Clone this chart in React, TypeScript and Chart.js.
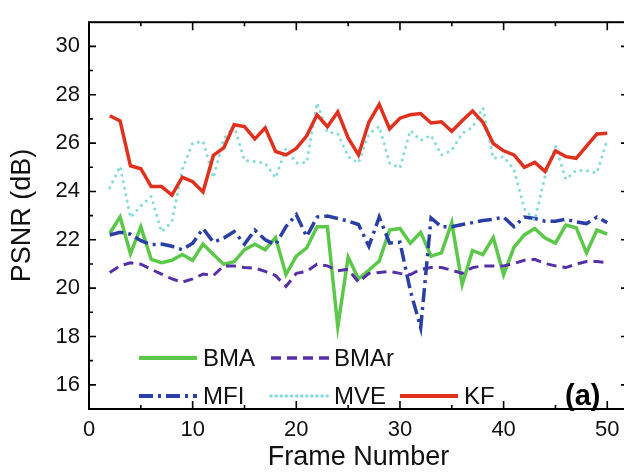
import React, { useEffect, useRef } from "react";
import { Chart, registerables } from "chart.js";
Chart.register(...registerables);

const frames = [2, 3, 4, 5, 6, 7, 8, 9, 10, 11, 12, 13, 14, 15, 16, 17, 18, 19, 20, 21, 22, 23, 24, 25, 26, 27, 28, 29, 30, 31, 32, 33, 34, 35, 36, 37, 38, 39, 40, 41, 42, 43, 44, 45, 46, 47, 48, 49, 50];

const bma = [22.27, 22.94, 21.42, 22.54, 21.19, 21.05, 21.15, 21.39, 21.15, 21.82, 21.39, 20.99, 21.09, 21.59, 21.82, 21.59, 22.09, 20.56, 21.32, 21.66, 22.54, 22.54, 18.4, 21.28, 20.38, 20.74, 21.12, 22.4, 22.47, 21.86, 22.31, 21.32, 21.46, 22.71, 20.15, 21.55, 21.39, 22.09, 20.56, 21.69, 22.2, 22.47, 22.07, 21.86, 22.61, 22.5, 21.46, 22.4, 22.23];

const bmar = [20.65, 20.92, 21.05, 20.99, 20.78, 20.58, 20.38, 20.25, 20.38, 20.58, 20.52, 20.92, 20.92, 20.85, 20.83, 20.69, 20.52, 20.07, 20.61, 20.69, 20.99, 20.92, 20.72, 20.78, 20.25, 20.61, 20.65, 20.69, 20.61, 20.56, 20.78, 20.85, 20.85, 20.74, 20.61, 20.85, 20.92, 20.92, 20.92, 21.02, 21.15, 21.19, 21.02, 20.92, 20.85, 20.99, 21.1, 21.1, 21.05];

const mfi = [22.2, 22.31, 22.23, 21.96, 21.8, 21.82, 21.73, 21.59, 21.86, 22.47, 21.9, 22.07, 22.34, 21.82, 22.4, 22.0, 21.8, 22.54, 23.04, 22.13, 22.94, 22.98, 22.88, 22.77, 22.63, 21.73, 22.94, 21.86, 21.9, 19.9, 18.36, 22.9, 22.54, 22.54, 22.63, 22.71, 22.8, 22.85, 22.94, 22.54, 22.94, 22.88, 22.77, 22.77, 22.85, 22.74, 22.67, 22.94, 22.71];

const mve = [24.15, 25.04, 22.92, 23.4, 23.79, 22.33, 22.75, 24.92, 26.0, 26.07, 24.56, 26.18, 26.7, 25.28, 25.23, 25.17, 24.56, 25.78, 25.17, 25.2, 27.66, 26.45, 26.4, 25.44, 25.17, 26.38, 26.69, 25.17, 24.97, 26.52, 26.11, 26.32, 25.51, 25.7, 26.4, 26.65, 27.46, 25.37, 25.44, 24.9, 23.28, 22.8, 24.63, 25.87, 24.5, 24.87, 24.86, 24.76, 26.14];

const kf = [27.13, 26.92, 25.06, 24.94, 24.2, 24.2, 23.85, 24.59, 24.4, 23.98, 25.49, 25.8, 26.76, 26.68, 26.17, 26.63, 25.65, 25.51, 25.78, 26.3, 27.17, 26.68, 27.29, 26.21, 25.51, 26.86, 27.6, 26.59, 27.03, 27.17, 27.22, 26.83, 26.88, 26.49, 26.92, 27.33, 26.86, 25.98, 25.68, 25.51, 25.0, 25.2, 24.83, 25.68, 25.44, 25.37, 25.87, 26.38, 26.41];

const xTickValues = [0, 10, 20, 30, 40, 50];
const xMinorValues = [5, 15, 25, 35, 45];
const yTickValues = [16, 18, 20, 22, 24, 26, 28, 30];
const yMinorValues = [17, 19, 21, 23, 25, 27, 29];

const FONT = "'Liberation Sans', Arial, Helvetica, sans-serif";

const seriesStyles = [
  { label: "BMA", data: bma, color: "#5cc84a", width: 3.5, dash: [] as number[], cap: "butt" },
  { label: "BMAr", data: bmar, color: "#5630a8", width: 3, dash: [10, 6], cap: "butt" },
  { label: "MFI", data: mfi, color: "#2a3fa6", width: 3.5, dash: [14, 5, 3, 5], cap: "butt" },
  { label: "MVE", data: mve, color: "#86dcd8", width: 3, dash: [0.1, 6.5], cap: "round" },
  { label: "KF", data: kf, color: "#e0301e", width: 3.5, dash: [] as number[], cap: "butt" },
];

const legendItems = [
  { idx: 0, x1: 139, x2: 197, tx: 203, y: 358 },
  { idx: 1, x1: 271, x2: 329, tx: 334, y: 358 },
  { idx: 2, x1: 139, x2: 197, tx: 203, y: 396 },
  { idx: 3, x1: 271, x2: 329, tx: 334, y: 396 },
  { idx: 4, x1: 400, x2: 458, tx: 464, y: 396 },
];

const framePlugin = {
  id: "frameAndLegend",
  afterDatasetsDraw(chart: any) {
    const { ctx, chartArea, scales } = chart;
    const { left, right, top, bottom } = chartArea;
    ctx.save();
    ctx.strokeStyle = "#000";
    ctx.lineWidth = 2;
    ctx.setLineDash([]);
    ctx.strokeRect(left, top, right - left, bottom - top);
    ctx.lineWidth = 1.6;
    const drawX = (vals: number[], len: number) => {
      vals.forEach((v) => {
        const px = scales.x.getPixelForValue(v);
        ctx.beginPath();
        ctx.moveTo(px, bottom);
        ctx.lineTo(px, bottom - len);
        ctx.moveTo(px, top);
        ctx.lineTo(px, top + len);
        ctx.stroke();
      });
    };
    const drawY = (vals: number[], len: number) => {
      vals.forEach((v) => {
        const py = scales.y.getPixelForValue(v);
        ctx.beginPath();
        ctx.moveTo(left, py);
        ctx.lineTo(left + len, py);
        ctx.moveTo(right, py);
        ctx.lineTo(right - len, py);
        ctx.stroke();
      });
    };
    drawX(xTickValues, 8);
    drawX(xMinorValues, 4);
    drawY(yTickValues, 7);
    drawY(yMinorValues, 4);

    legendItems.forEach((it) => {
      const s = seriesStyles[it.idx];
      ctx.beginPath();
      ctx.strokeStyle = s.color;
      ctx.lineWidth = s.width + 0.5;
      ctx.lineCap = s.cap as CanvasLineCap;
      ctx.setLineDash(it.idx === 3 ? [0.1, 5] : s.dash);
      ctx.moveTo(it.x1, it.y);
      ctx.lineTo(it.x2, it.y);
      ctx.stroke();
      ctx.setLineDash([]);
      ctx.lineCap = "butt";
      ctx.fillStyle = "#111";
      ctx.font = `24px ${FONT}`;
      ctx.textAlign = "left";
      ctx.textBaseline = "middle";
      ctx.fillText(s.label, it.tx, it.y + 1);
    });
    ctx.font = `bold 29px ${FONT}`;
    ctx.fillStyle = "#000";
    ctx.textAlign = "left";
    ctx.textBaseline = "middle";
    ctx.fillText("(a)", 565, 397);
    ctx.restore();
  },
};

export default function App() {
  const ref = useRef<HTMLCanvasElement | null>(null);
  useEffect(() => {
    if (!ref.current) return;
    const datasets = seriesStyles.map((s, i) => ({
      label: s.label,
      data: frames.map((f, j) => ({ x: f, y: s.data[j] })),
      borderColor: s.color,
      backgroundColor: s.color,
      borderWidth: s.width,
      borderDash: s.dash,
      borderCapStyle: s.cap,
      borderJoinStyle: "miter",
      pointRadius: 0,
      tension: 0,
      fill: false,
      order: 5 - i,
    }));
    const chart = new Chart(ref.current, {
      type: "line",
      data: { datasets: datasets as any },
      options: {
        animation: false,
        responsive: false,
        layout: { padding: { left: 0, top: 13, right: 12, bottom: 0 } },
        plugins: { legend: { display: false }, tooltip: { enabled: false } },
        scales: {
          x: {
            type: "linear",
            min: 0,
            max: 52,
            afterBuildTicks: (s: any) => {
              s.ticks = xTickValues.map((v) => ({ value: v }));
            },
            afterFit: (s: any) => {
              s.height = 65;
            },
            grid: { display: false, drawTicks: false },
            border: { display: false },
            ticks: {
              color: "#111",
              font: { family: FONT, size: 22 },
              padding: 8,
              maxRotation: 0,
              autoSkip: false,
            },
            title: {
              display: true,
              text: "Frame Number",
              color: "#111",
              font: { family: FONT, size: 27 },
              padding: { top: 0, bottom: 0 },
            },
          },
          y: {
            type: "linear",
            min: 15,
            max: 31,
            afterBuildTicks: (s: any) => {
              s.ticks = yTickValues.map((v) => ({ value: v }));
            },
            afterFit: (s: any) => {
              s.width = 89;
            },
            grid: { display: false, drawTicks: false },
            border: { display: false },
            ticks: {
              color: "#111",
              font: { family: FONT, size: 22 },
              padding: 9,
              autoSkip: false,
            },
            title: {
              display: true,
              text: "PSNR (dB)",
              color: "#111",
              font: { family: FONT, size: 27 },
              padding: { top: 6, bottom: 0 },
            },
          },
        },
      },
      plugins: [framePlugin],
    });
    return () => chart.destroy();
  }, []);
  return (
    <div
      style={{
        position: "fixed",
        left: 0,
        top: 0,
        width: 624,
        height: 474,
        overflow: "hidden",
        background: "#fff",
      }}
    >
      <canvas ref={ref} width={640} height={474} style={{ display: "block" }} />
    </div>
  );
}
